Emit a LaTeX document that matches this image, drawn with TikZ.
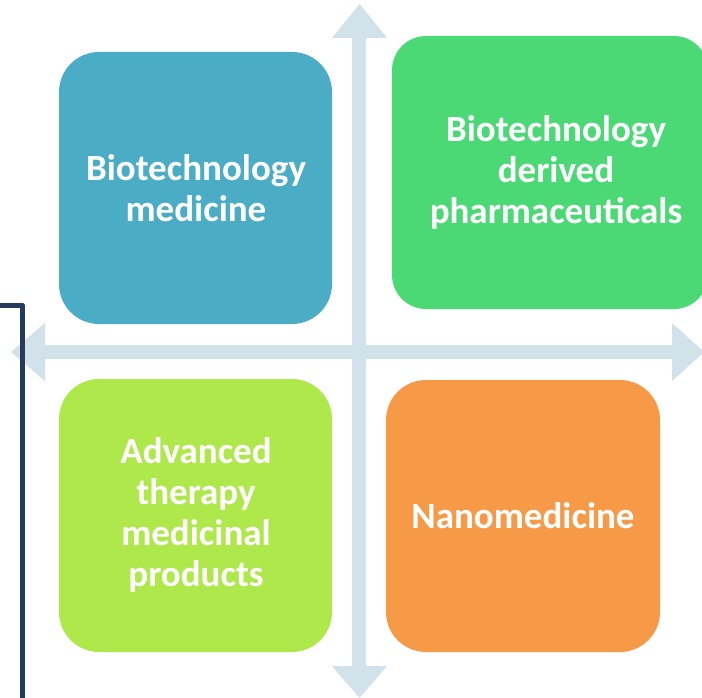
\documentclass[tikz,border=0pt]{standalone}
\usepackage{fontspec}
\setmainfont{Carlito}
\definecolor{tileblue}{HTML}{4BACC6}
\definecolor{tilegreen}{HTML}{4AD974}
\definecolor{tilelime}{HTML}{AEE84A}
\definecolor{tileorange}{HTML}{F79A48}
\definecolor{axisblue}{HTML}{D2E2EA}
\definecolor{framenavy}{HTML}{243B5E}
\tikzset{
  tile/.style={rounded corners=40pt, inner sep=0pt, text=white,
    font=\bfseries\fontsize{37}{41}\selectfont, align=center},
  axis/.style={fill=axisblue, draw=none},
  frameline/.style={draw=framenavy, line width=5pt, line join=round}
}
\begin{document}
\begin{tikzpicture}[x=1pt,y=-1pt]
\useasboundingbox (0,0) rectangle (702,698);
\coordinate (c) at (359,352);
% double-headed axes
\fill[axis] (352,38) -- (332,38) -- (359.5,4) -- (387,38) -- (366,38)
  -- (366,666) -- (387,666) -- (359.5,698) -- (332,666) -- (352,666) -- cycle;
\fill[axis] (45,345) -- (45,323) -- (11,352) -- (45,381) -- (45,359)
  -- (672,359) -- (672,381) -- (704,352) -- (672,323) -- (672,345) -- cycle;
% four quadrant tiles
\fill[tileblue, rounded corners=40pt] (59,52) rectangle (332,324);
\fill[tilegreen, rounded corners=34pt] (392,36) rectangle (708,309);
\fill[tilelime, rounded corners=40pt] (59,379) rectangle (332,652);
\fill[tileorange, rounded corners=40pt] (386,380) rectangle (660,652);
\node[tile] (bio) at (196,188) {Biotechnology\\medicine};
\node[tile] (der) at (556,172) {Biotechnology\\derived\\pharmaceuticals};
\node[tile] (atmp) at (196,515) {Advanced\\therapy\\medicinal\\products};
\node[tile] (nano) at (523,516) {Nanomedicine};
% frame edge on the left
\coordinate (f1) at (0,305);
\coordinate (f2) at (22,305);
\coordinate (f3) at (22,700);
\draw[frameline] (f1) -- (f2) -- (f3);
\end{tikzpicture}
\end{document}
